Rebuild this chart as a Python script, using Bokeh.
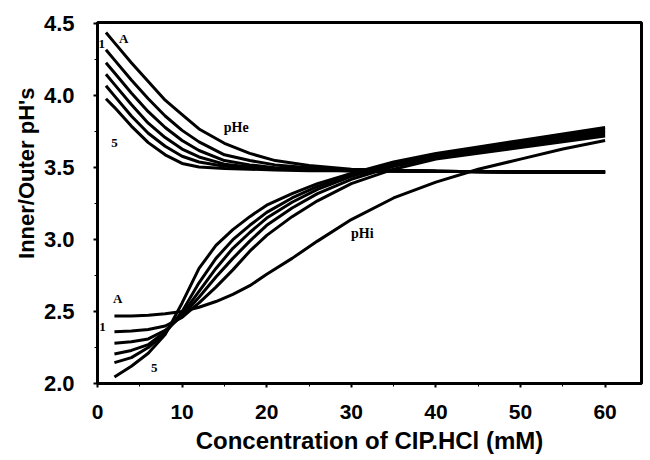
from bokeh.plotting import figure
from bokeh.models import FixedTicker, PrintfTickFormatter, Label, Range1d, Title
from bokeh.embed import file_html
from bokeh.resources import INLINE

# ---- data ----
phe_x = [1, 2, 4, 6, 8, 10, 12, 15, 18, 21, 25, 30, 40, 50, 60]
phe_A = [4.44, 4.37, 4.23, 4.10, 3.97, 3.87, 3.77, 3.67, 3.60, 3.55, 3.515, 3.49, 3.475, 3.47, 3.47]
phe_1 = [4.32, 4.25, 4.11, 3.98, 3.86, 3.76, 3.68, 3.59, 3.55, 3.52, 3.50, 3.485, 3.475, 3.47, 3.47]
phe_2 = [4.23, 4.16, 4.02, 3.89, 3.78, 3.69, 3.62, 3.55, 3.52, 3.50, 3.49, 3.48, 3.475, 3.47, 3.47]
phe_3 = [4.15, 4.08, 3.94, 3.81, 3.71, 3.63, 3.575, 3.525, 3.505, 3.495, 3.485, 3.48, 3.475, 3.47, 3.47]
phe_4 = [4.07, 4.00, 3.86, 3.74, 3.65, 3.58, 3.54, 3.51, 3.50, 3.49, 3.485, 3.48, 3.475, 3.47, 3.47]
phe_5 = [3.98, 3.92, 3.79, 3.675, 3.59, 3.53, 3.505, 3.495, 3.49, 3.485, 3.48, 3.48, 3.475, 3.47, 3.47]

phi_x = [2, 4, 6, 8, 10, 12, 14, 16, 18, 20, 23, 26, 30, 35, 40, 45, 50, 55, 60]
phi_A = [2.47, 2.47, 2.475, 2.485, 2.50, 2.53, 2.57, 2.62, 2.68, 2.76, 2.87, 2.99, 3.14, 3.29, 3.40, 3.49, 3.56, 3.63, 3.69]
phi_1 = [2.36, 2.365, 2.375, 2.40, 2.46, 2.56, 2.67, 2.79, 2.92, 3.03, 3.16, 3.27, 3.39, 3.49, 3.56, 3.60, 3.64, 3.68, 3.72]
phi_2 = [2.28, 2.29, 2.31, 2.37, 2.47, 2.60, 2.74, 2.87, 2.99, 3.10, 3.22, 3.32, 3.42, 3.51, 3.57, 3.615, 3.655, 3.695, 3.735]
phi_3 = [2.205, 2.23, 2.27, 2.36, 2.48, 2.64, 2.80, 2.94, 3.05, 3.15, 3.26, 3.35, 3.44, 3.52, 3.58, 3.625, 3.67, 3.71, 3.75]
phi_4 = [2.145, 2.18, 2.25, 2.35, 2.50, 2.70, 2.87, 3.00, 3.10, 3.19, 3.29, 3.37, 3.45, 3.53, 3.59, 3.635, 3.68, 3.725, 3.765]
phi_5 = [2.045, 2.12, 2.21, 2.34, 2.56, 2.80, 2.96, 3.07, 3.16, 3.24, 3.32, 3.39, 3.46, 3.54, 3.60, 3.645, 3.69, 3.735, 3.78]

x_ticks = [0, 10, 20, 30, 40, 50, 60]
y_ticks = [2.0, 2.5, 3.0, 3.5, 4.0, 4.5]

x_title = "Concentration of CIP.HCl (mM)"
y_title = "Inner/Outer pH's"

curve_labels = ["A", "1", "5", "pHe", "pHi", "A", "1", "5"]
curve_label_x = [3.1, 0.5, 2.0, 16.4, 31.3, 2.4, 0.6, 6.7]
curve_label_y = [4.40, 4.36, 3.67, 3.78, 3.04, 2.59, 2.39, 2.11]

# ---- figure ----
p = figure(width=650, height=460, output_backend="svg", toolbar_location=None,
           x_range=Range1d(0, 64.3), y_range=Range1d(2.0, 4.51),
           min_border_left=97, min_border_right=9, min_border_top=22, min_border_bottom=77)
p.background_fill_color = "white"
p.border_fill_color = "white"
p.outline_line_color = "black"
p.outline_line_width = 3
p.xgrid.visible = False
p.ygrid.visible = False

for ys in [phe_A, phe_1, phe_2, phe_3, phe_4, phe_5]:
    p.line(phe_x, ys, line_color="black", line_width=3)
for ys in [phi_A, phi_1, phi_2, phi_3, phi_4, phi_5]:
    p.line(phi_x, ys, line_color="black", line_width=3)

for ax in (p.xaxis[0], p.yaxis[0]):
    ax.axis_line_color = "black"
    ax.axis_line_width = 3
    ax.major_tick_line_color = "black"
    ax.major_tick_line_width = 2
    ax.minor_tick_line_color = "black"
    ax.minor_tick_line_width = 1
    ax.major_tick_in = 0
    ax.major_tick_out = 4
    ax.minor_tick_in = 0
    ax.minor_tick_out = 3
    ax.major_label_text_font = "Liberation Sans"
    ax.major_label_text_font_style = "bold"
    ax.major_label_text_color = "black"

p.xaxis[0].ticker = FixedTicker(ticks=x_ticks, minor_ticks=[v + 5 for v in x_ticks])
p.xaxis[0].major_label_text_font_size = "21px"
p.xaxis[0].major_label_standoff = 17
p.xaxis[0].axis_label = x_title
p.xaxis[0].axis_label_standoff = 5
p.xaxis[0].axis_label_text_font = "Liberation Sans"
p.xaxis[0].axis_label_text_font_style = "bold"
p.xaxis[0].axis_label_text_font_size = "24px"
p.xaxis[0].axis_label_text_color = "black"

p.yaxis[0].ticker = FixedTicker(ticks=y_ticks, minor_ticks=[v + 0.25 for v in y_ticks])
p.yaxis[0].formatter = PrintfTickFormatter(format="%.1f")
p.yaxis[0].major_label_text_font_size = "22px"
p.yaxis[0].major_label_standoff = 19

p.add_layout(Title(text=y_title, align="right", offset=65, standoff=3,
                   text_font="Liberation Sans", text_font_style="bold",
                   text_font_size="22px", text_color="black"), "left")

for t, lx, ly in zip(curve_labels, curve_label_x, curve_label_y):
    size = "14px" if t.startswith("pH") else "13px"
    p.add_layout(Label(x=lx, y=ly, text=t, text_align="center", text_baseline="middle",
                       text_font="Liberation Serif", text_font_style="bold",
                       text_font_size=size, text_color="black"))

open("out.html", "w").write(file_html(p, INLINE))
